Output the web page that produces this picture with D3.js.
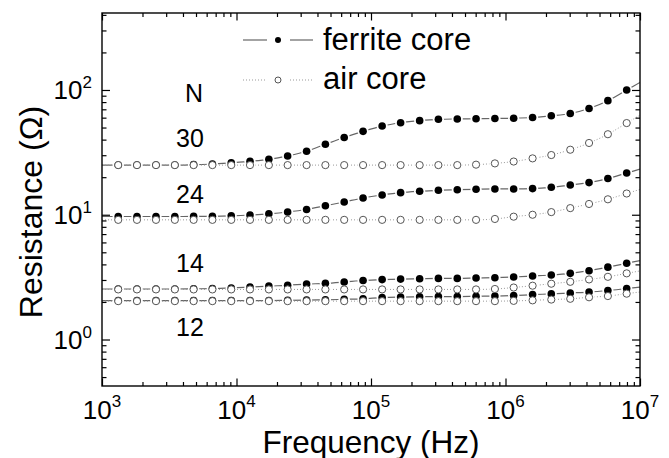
<!DOCTYPE html>
<html>
<head>
<meta charset="utf-8">
<script src="https://cdn.jsdelivr.net/npm/d3@7"></script>
<style>
  html, body { margin: 0; padding: 0; background: #fff; }
  svg text { font-family: "Liberation Sans", Arial, sans-serif; fill: #000; }
</style>
</head>
<body>
<svg id="chart" width="669" height="458"></svg>
<script>
// measurement frequencies (Hz), 28 points per curve
const freq = [1.32e3, 1.82e3, 2.52e3, 3.48e3, 4.80e3, 6.62e3, 9.14e3, 1.26e4, 1.74e4, 2.40e4,
  3.32e4, 4.58e4, 6.32e4, 8.73e4, 1.21e5, 1.66e5, 2.30e5, 3.17e5, 4.38e5, 6.04e5,
  8.34e5, 1.15e6, 1.59e6, 2.19e6, 3.03e6, 4.18e6, 5.77e6, 7.96e6];

// resistance (ohm), ferrite core
const ferrite30 = [25.0, 25.0, 25.0, 25.0, 25.2, 25.5, 26.1, 26.8, 27.8, 29.6, 32.3, 36.7, 41.6, 46.6,
  51.4, 54.6, 56.8, 58.2, 58.6, 58.8, 59.1, 59.4, 60.2, 62.1, 64.8, 71.1, 82.1, 100];
const ferrite24 = [9.68, 9.68, 9.68, 9.68, 9.70, 9.72, 9.80, 9.95, 10.18, 10.52, 11.02, 11.80, 12.66, 13.62,
  14.40, 15.03, 15.42, 15.70, 15.88, 16.0, 16.09, 16.09, 16.2, 16.6, 17.3, 18.1, 19.5, 21.6];
const ferrite14 = [2.54, 2.54, 2.54, 2.54, 2.55, 2.56, 2.59, 2.63, 2.68, 2.72, 2.78, 2.82, 2.89, 2.97,
  3.02, 3.05, 3.07, 3.09, 3.09, 3.11, 3.13, 3.17, 3.23, 3.29, 3.39, 3.56, 3.80, 4.08];
const ferrite12 = [2.05, 2.05, 2.05, 2.05, 2.05, 2.05, 2.05, 2.05, 2.05, 2.06, 2.07, 2.08, 2.10, 2.12,
  2.17, 2.19, 2.20, 2.21, 2.21, 2.22, 2.23, 2.25, 2.29, 2.32, 2.36, 2.40, 2.47, 2.56];

// resistance (ohm), air core
const air30 = [25.0, 25.0, 25.0, 25.0, 25.0, 25.0, 25.0, 25.0, 25.0, 25.0, 25.0, 25.0, 25.0, 25.0,
  25.0, 25.0, 25.0, 25.0, 25.0, 25.2, 25.8, 26.7, 28.3, 30.1, 33.2, 37.6, 44.2, 54.3];
const air24 = [9.1, 9.1, 9.1, 9.1, 9.1, 9.1, 9.1, 9.1, 9.1, 9.1, 9.1, 9.1, 9.1, 9.1,
  9.1, 9.1, 9.1, 9.1, 9.1, 9.1, 9.25, 9.65, 10.0, 10.5, 11.3, 12.2, 13.3, 14.8];
const air14 = [2.52, 2.52, 2.52, 2.52, 2.52, 2.52, 2.52, 2.52, 2.52, 2.52, 2.52, 2.52, 2.52, 2.52,
  2.52, 2.52, 2.52, 2.52, 2.52, 2.52, 2.54, 2.61, 2.70, 2.80, 2.90, 3.03, 3.18, 3.39];
const air12 = [2.03, 2.03, 2.03, 2.03, 2.03, 2.03, 2.03, 2.03, 2.03, 2.03, 2.03, 2.03, 2.03, 2.03,
  2.03, 2.03, 2.03, 2.03, 2.03, 2.03, 2.03, 2.04, 2.06, 2.09, 2.12, 2.18, 2.23, 2.33];

const turns = ['30', '24', '14', '12'];
const ferriteSeries = [ferrite30, ferrite24, ferrite14, ferrite12];
const airSeries = [air30, air24, air14, air12];
const legendLabels = ['ferrite core', 'air core'];
const xExponents = [3, 4, 5, 6, 7];
const yExponents = [0, 1, 2];

const svg = d3.select('#chart');
const plotL = 102, plotR = 640, plotT = 13, plotB = 386;

const x = d3.scaleLog().domain([1e3, 1e7]).range([plotL, plotR]);
const y = d3.scaleLog().domain([0.424, 414]).range([plotB, plotT]);

svg.append('clipPath').attr('id', 'plot-clip')
  .append('rect')
  .attr('x', plotL).attr('y', plotT)
  .attr('width', plotR - plotL).attr('height', plotB - plotT);

// continue each curve to the frame along its end slopes (log-log)
function withEnds(vals) {
  const lg = Math.log10;
  const pts = freq.map((f, i) => [f, vals[i]]);
  const n = pts.length;
  const s0 = (lg(pts[1][1]) - lg(pts[0][1])) / (lg(pts[1][0]) - lg(pts[0][0]));
  const s1 = (lg(pts[n - 1][1]) - lg(pts[n - 2][1])) / (lg(pts[n - 1][0]) - lg(pts[n - 2][0]));
  const x0 = x.domain()[0], x1 = x.domain()[1];
  const start = [x0, 10 ** (lg(pts[0][1]) + s0 * (lg(x0) - lg(pts[0][0])))];
  const end = [x1, 10 ** (lg(pts[n - 1][1]) + s1 * (lg(x1) - lg(pts[n - 1][0])))];
  return [start, ...pts, end];
}

const line = d3.line()
  .x(d => x(d[0]))
  .y(d => y(d[1]))
  .curve(d3.curveMonotoneX);

const plot = svg.append('g').attr('clip-path', 'url(#plot-clip)');

ferriteSeries.forEach(vals => {
  plot.append('path')
    .attr('d', line(withEnds(vals)))
    .attr('fill', 'none')
    .attr('stroke', '#666')
    .attr('stroke-width', 1.2);
});

airSeries.forEach(vals => {
  plot.append('path')
    .attr('d', line(withEnds(vals)))
    .attr('fill', 'none')
    .attr('stroke', '#999')
    .attr('stroke-width', 1)
    .attr('stroke-dasharray', '1,2');
});

// white gap around every symbol
ferriteSeries.concat(airSeries).forEach(vals => {
  plot.append('g').selectAll('circle')
    .data(freq.map((f, i) => [f, vals[i]]))
    .enter().append('circle')
    .attr('cx', d => x(d[0]))
    .attr('cy', d => y(d[1]))
    .attr('r', 5.6)
    .attr('fill', '#fff');
});

ferriteSeries.forEach(vals => {
  plot.append('g').selectAll('circle')
    .data(freq.map((f, i) => [f, vals[i]]))
    .enter().append('circle')
    .attr('cx', d => x(d[0]))
    .attr('cy', d => y(d[1]))
    .attr('r', 3.8)
    .attr('fill', '#000');
});

airSeries.forEach(vals => {
  plot.append('g').selectAll('circle')
    .data(freq.map((f, i) => [f, vals[i]]))
    .enter().append('circle')
    .attr('cx', d => x(d[0]))
    .attr('cy', d => y(d[1]))
    .attr('r', 3.6)
    .attr('fill', '#fff')
    .attr('stroke', '#555')
    .attr('stroke-width', 1);
});

// axes: ticks point inward on all four sides
const xMajor = xExponents.map(e => 10 ** e);
const xMinor = [];
xExponents.slice(0, -1).forEach(e => { for (let m = 2; m <= 9; m++) xMinor.push(m * 10 ** e); });
const yMajor = yExponents.map(e => 10 ** e);
const yMinor = [];
[-1, 0, 1, 2].forEach(e => {
  for (let m = 2; m <= 9; m++) {
    const v = m * 10 ** e;
    if (v >= y.domain()[0] && v <= y.domain()[1]) yMinor.push(v);
  }
});

function addAxis(axisFn, scale, values, size, transform) {
  const g = svg.append('g')
    .attr('transform', transform)
    .call(axisFn(scale).tickValues(values).tickSizeInner(-size).tickSizeOuter(0).tickFormat(''));
  g.select('.domain').remove();
  g.selectAll('line').attr('stroke', '#000').attr('stroke-width', 1.2);
}

addAxis(d3.axisBottom, x, xMajor, 7.5, `translate(0,${plotB})`);
addAxis(d3.axisBottom, x, xMinor, 4, `translate(0,${plotB})`);
addAxis(d3.axisTop, x, xMajor, 7.5, `translate(0,${plotT})`);
addAxis(d3.axisTop, x, xMinor, 4, `translate(0,${plotT})`);
addAxis(d3.axisLeft, y, yMajor, 8, `translate(${plotL},0)`);
addAxis(d3.axisLeft, y, yMinor, 4.5, `translate(${plotL},0)`);
addAxis(d3.axisRight, y, yMajor, 8, `translate(${plotR},0)`);
addAxis(d3.axisRight, y, yMinor, 4.5, `translate(${plotR},0)`);

svg.append('rect')
  .attr('x', plotL).attr('y', plotT)
  .attr('width', plotR - plotL).attr('height', plotB - plotT)
  .attr('fill', 'none')
  .attr('stroke', '#000')
  .attr('stroke-width', 1.4);

// tick labels as 10^n
xExponents.forEach(e => {
  const t = svg.append('text')
    .attr('x', x(10 ** e))
    .attr('y', 418.5)
    .attr('text-anchor', 'middle');
  t.append('tspan').attr('font-size', 26).text('10');
  t.append('tspan').attr('font-size', 17).attr('dy', -11.5).text(e);
});

yExponents.forEach(e => {
  const t = svg.append('text')
    .attr('x', 92)
    .attr('y', y(10 ** e) + 9.5)
    .attr('text-anchor', 'end');
  t.append('tspan').attr('font-size', 26).text('10');
  t.append('tspan').attr('font-size', 17).attr('dy', -11.5).text(e);
});

// axis titles
svg.append('text')
  .attr('x', (plotL + plotR) / 2)
  .attr('y', 452.5)
  .attr('text-anchor', 'middle')
  .attr('font-size', 31.5)
  .text('Frequency (Hz)');

svg.append('text')
  .attr('transform', 'translate(42,212) rotate(-90)')
  .attr('text-anchor', 'middle')
  .attr('font-size', 32)
  .text('Resistance (Ω)');

// turn-count labels
svg.append('text').attr('x', 194).attr('y', 102)
  .attr('text-anchor', 'middle').attr('font-size', 25).text('N');
const turnY = [147, 203, 272, 336];
turns.forEach((t, i) => {
  svg.append('text').attr('x', 190).attr('y', turnY[i])
    .attr('text-anchor', 'middle').attr('font-size', 25).text(t);
});

// legend
const lg = svg.append('g');
lg.append('line').attr('x1', 243).attr('x2', 267).attr('y1', 40).attr('y2', 40)
  .attr('stroke', '#666').attr('stroke-width', 1.2);
lg.append('line').attr('x1', 290).attr('x2', 313).attr('y1', 40).attr('y2', 40)
  .attr('stroke', '#666').attr('stroke-width', 1.2);
lg.append('circle').attr('cx', 278).attr('cy', 40).attr('r', 3).attr('fill', '#000');
lg.append('line').attr('x1', 243).attr('x2', 267).attr('y1', 80).attr('y2', 80)
  .attr('stroke', '#999').attr('stroke-width', 1).attr('stroke-dasharray', '1,2');
lg.append('line').attr('x1', 290).attr('x2', 313).attr('y1', 80).attr('y2', 80)
  .attr('stroke', '#999').attr('stroke-width', 1).attr('stroke-dasharray', '1,2');
lg.append('circle').attr('cx', 278).attr('cy', 80).attr('r', 3)
  .attr('fill', '#fff').attr('stroke', '#555').attr('stroke-width', 1);
lg.append('text').attr('x', 323).attr('y', 50).attr('font-size', 31).text(legendLabels[0]);
lg.append('text').attr('x', 323).attr('y', 89).attr('font-size', 31).text(legendLabels[1]);
</script>
</body>
</html>
